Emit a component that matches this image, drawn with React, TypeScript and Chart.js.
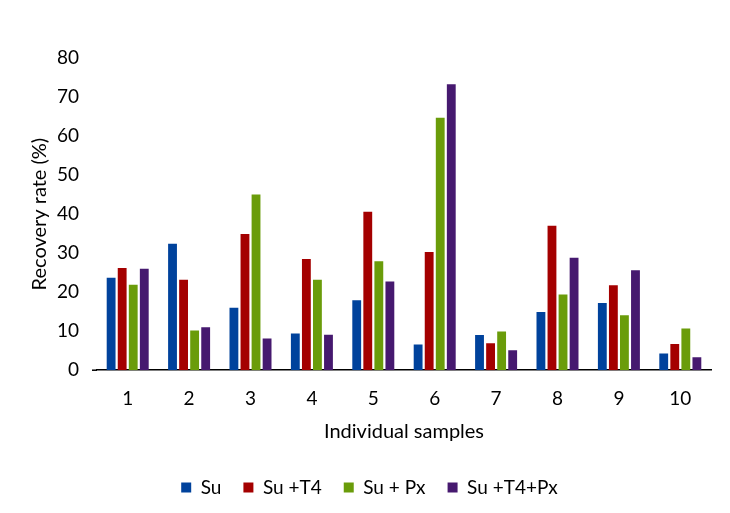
import React, { useEffect, useRef } from "react";
import { Chart, registerables } from "chart.js";

Chart.register(...registerables);

const categories = ["1", "2", "3", "4", "5", "6", "7", "8", "9", "10"];
const su = [23.7, 32.4, 16.0, 9.4, 17.9, 6.6, 9.0, 14.9, 17.2, 4.3];
const suT4 = [26.2, 23.2, 34.9, 28.5, 40.6, 30.3, 6.9, 37.0, 21.8, 6.7];
const suPx = [21.9, 10.2, 45.0, 23.2, 27.9, 64.7, 9.9, 19.4, 14.1, 10.7];
const suT4Px = [26.0, 11.0, 8.1, 9.1, 22.7, 73.3, 5.1, 28.8, 25.6, 3.3];
const seriesNames = ["Su", "Su +T4", "Su + Px", "Su +T4+Px"];
const colors = ["#00429c", "#a40000", "#6a9c0a", "#46196f"];

const FONT = "Lato, 'Open Sans', sans-serif";

export default function App() {
  const ref = useRef<HTMLCanvasElement | null>(null);
  useEffect(() => {
    if (!ref.current) return;
    const values = [su, suT4, suPx, suT4Px];
    const axisExtension = {
      id: "axisExtension",
      afterDraw(c: any) {
        const { ctx, chartArea } = c;
        ctx.save();
        ctx.strokeStyle = "#000";
        ctx.lineWidth = 1.5;
        ctx.beginPath();
        ctx.moveTo(chartArea.left - 5, chartArea.bottom);
        ctx.lineTo(chartArea.left, chartArea.bottom);
        ctx.stroke();
        ctx.restore();
      },
    };
    const chart = new Chart(ref.current, {
      type: "bar",
      data: {
        labels: categories,
        datasets: values.map((v, i) => ({
          label: seriesNames[i],
          data: v,
          backgroundColor: colors[i],
          borderWidth: 0,
          categoryPercentage: 0.72,
          barPercentage: 0.8,
        })),
      },
      plugins: [axisExtension],
      options: {
        animation: false,
        responsive: true,
        maintainAspectRatio: false,
        layout: { padding: { left: 28, right: 19, top: 58, bottom: 6 } },
        plugins: {
          tooltip: { enabled: false },
          legend: {
            position: "bottom",
            labels: {
              color: "#000",
              font: { family: FONT, size: 19 },
              boxWidth: 10,
              boxHeight: 10,
              padding: 22,
            },
          },
        },
        scales: {
          x: {
            grid: { display: false },
            border: { display: true, color: "#000", width: 1.5 },
            ticks: { color: "#000", font: { family: FONT, size: 19 }, padding: 9 },
            title: {
              display: true,
              text: "Individual samples",
              color: "#000",
              font: { family: FONT, size: 20 },
              padding: { top: 1, bottom: 12 },
            },
          },
          y: {
            min: 0,
            max: 80,
            afterFit: (scale: any) => {
              scale.width = 69;
            },
            grid: { display: false, drawTicks: false },
            border: { display: false },
            ticks: { stepSize: 10, color: "#000", font: { family: FONT, size: 19 }, padding: 18 },
            title: {
              display: true,
              text: "Recovery rate (%)",
              color: "#000",
              font: { family: FONT, size: 20 },
              padding: { top: 0, bottom: 5 },
            },
          },
        },
      },
    });
    return () => chart.destroy();
  }, []);
  return (
    <div style={{ position: "absolute", left: 0, top: 0, width: 730, height: 513 }}>
      <canvas ref={ref} />
    </div>
  );
}
